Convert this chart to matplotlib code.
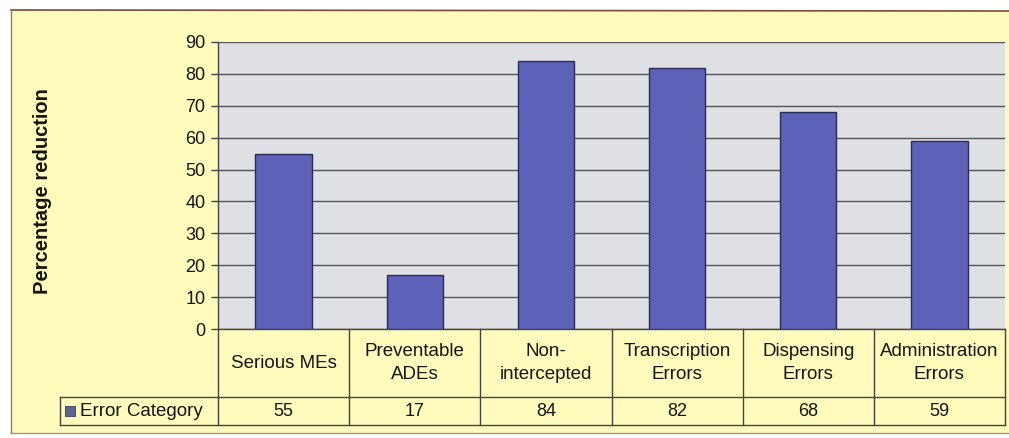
import matplotlib.pyplot as plt
import numpy as np

categories = ["Serious MEs", "Preventable\nADEs", "Non-\nintercepted",
              "Transcription\nErrors", "Dispensing\nErrors", "Administration\nErrors"]
values = [55, 17, 84, 82, 68, 59]
series_name = "Error Category"
yticks = [0, 10, 20, 30, 40, 50, 60, 70, 80, 90]

bg_col = "#fefbbd"
plot_col = "#dfe0e3"
bar_col = "#5c62b8"
edge_col = "#2a2c58"
line_col = "#444444"
txt_col = "#161616"
font = "Liberation Sans"

W, H = 1009, 438
fig = plt.figure(figsize=(W / 100, H / 100), dpi=100)
fig.patch.set_facecolor("white")

# chart frame drawn in pixel coordinates
frame = fig.add_axes([0, 0, 1, 1], zorder=0)
frame.set_xlim(0, W)
frame.set_ylim(H, 0)
frame.axis("off")
frame.add_patch(plt.Rectangle((11, 10), W - 11, 423, facecolor=bg_col,
                              edgecolor="none"))
frame.plot([11, W], [10, 11], color="#7a4a3a", lw=1.2)
frame.plot([11, 11], [10, 433], color="#b07060", lw=1.0)
frame.plot([11, W], [433, 433], color="#b09080", lw=1.0)

# plot area
x0, x1, ytop, ybot = 218, 1005, 42, 329
ax = fig.add_axes([x0 / W, 1 - ybot / H, (x1 - x0) / W, (ybot - ytop) / H], zorder=1)
ax.set_facecolor(plot_col)
x = np.arange(len(values))
ax.bar(x, values, width=0.43, color=bar_col, edgecolor=edge_col, linewidth=1.0, zorder=3)
ax.set_xlim(-0.5, len(values) - 0.5)
ax.set_ylim(0, 90)
ax.set_yticks(yticks)
ax.set_yticklabels([str(t) for t in yticks], fontsize=13, family=font, color=txt_col)
ax.tick_params(axis="y", length=5, width=1, color=line_col, pad=4)
ax.set_xticks([])
ax.yaxis.grid(True, color="#555555", lw=1.0, zorder=1)
ax.set_axisbelow(True)
for s in ["top", "right", "bottom"]:
    ax.spines[s].set_visible(False)
ax.spines["left"].set_color(line_col)
ax.spines["left"].set_linewidth(1.0)

ax.set_ylabel("Percentage reduction", fontsize=14.5, fontweight="bold",
              family=font, color=txt_col)
ax.yaxis.set_label_coords((52 - x0) / (x1 - x0), (ybot - 191) / (ybot - ytop))

# data table under the plot
tr = ax.get_xaxis_transform()
row1 = -(397 - 329) / (ybot - ytop)
row2 = -(425 - 329) / (ybot - ytop)
left_cell = -0.5 - (x0 - 60) / ((x1 - x0) / len(values))
n = len(values)
kw = dict(transform=tr, clip_on=False, color=line_col, lw=1.0)
ax.plot([-0.5, n - 0.5], [0, 0], **kw)
ax.plot([left_cell, n - 0.5], [row1, row1], **kw)
ax.plot([left_cell, n - 0.5], [row2, row2], **kw)
ax.plot([left_cell, left_cell], [row1, row2], **kw)
for i in range(n + 1):
    ax.plot([i - 0.5, i - 0.5], [0, row2], **kw)
for i, (c, v) in enumerate(zip(categories, values)):
    ax.text(i, row1 / 2, c, transform=tr, ha="center", va="center",
            fontsize=13.5, family=font, linespacing=1.5, color=txt_col)
    ax.text(i, (row1 + row2) / 2, str(v), transform=tr, ha="center", va="center",
            fontsize=13, family=font, color=txt_col)
ax.add_patch(plt.Rectangle((left_cell + 0.04, (row1 + row2) / 2 - 0.019), 0.075, 0.038,
                           transform=tr, clip_on=False, facecolor="#5f6390",
                           edgecolor="#3a3c60", lw=0.6))
ax.text(left_cell + 0.15, (row1 + row2) / 2, series_name, transform=tr, ha="left",
        va="center", fontsize=13.5, family=font, color=txt_col)

fig.savefig("out.png", dpi=100, facecolor=fig.get_facecolor())
